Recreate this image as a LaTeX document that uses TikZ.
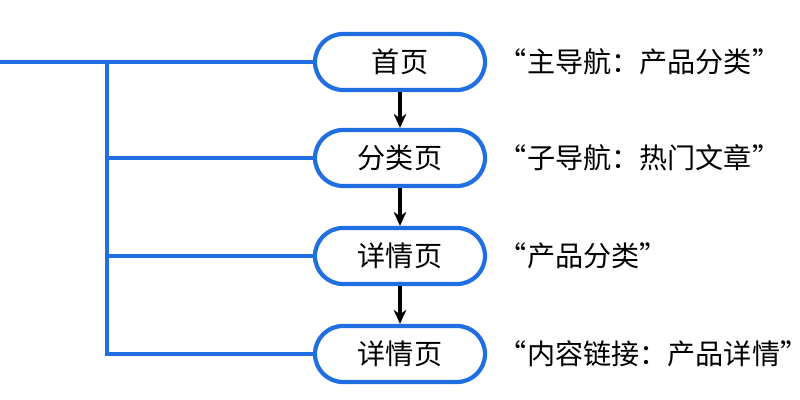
\documentclass[tikz,border=0pt]{standalone}
\usepackage{fontspec}
\newfontfamily\cjk{Noto Sans CJK SC}
\usetikzlibrary{positioning,arrows.meta}
\definecolor{navblue}{HTML}{1F6FE0}
\begin{document}
\begin{tikzpicture}[font=\cjk\fontsize{20}{24}\selectfont,
  page/.style={draw=navblue, line width=3pt, rounded corners=0.7cm,
    minimum width=4.25cm, minimum height=1.4cm, fill=white},
  note/.style={anchor=west},
  link/.style={draw=navblue, line width=2.6pt},
  flow/.style={-{Stealth[length=10pt,width=9pt]}, line width=2.3pt}]
\useasboundingbox (0,0) rectangle (20,10);

\node[page] (home) at (10,8.45) {首页};
\node[page] (cat) at (10,6.05) {分类页};
\node[page] (det) at (10,3.6) {详情页};
\node[page] (det2) at (10,1.15) {详情页};

\node[note] (nhome) at (12.35,8.45) {“主导航：产品分类”};
\node[note] (ncat) at (12.35,6.05) {“子导航：热门文章”};
\node[note] (ndet) at (12.35,3.6) {“产品分类”};
\node[note] (ndet2) at (12.35,1.15) {“内容链接：产品详情”};

\coordinate (start) at (0,8.45);
\coordinate (top) at (2.675,8.45);
\draw[link] (start) -- (home.west);
\foreach \n in {cat,det,det2}
  \draw[link] (top) |- (\n.west);

\draw[flow] (home) -- (cat);
\draw[flow] (cat) -- (det);
\draw[flow] (det) -- (det2);
\end{tikzpicture}
\end{document}
